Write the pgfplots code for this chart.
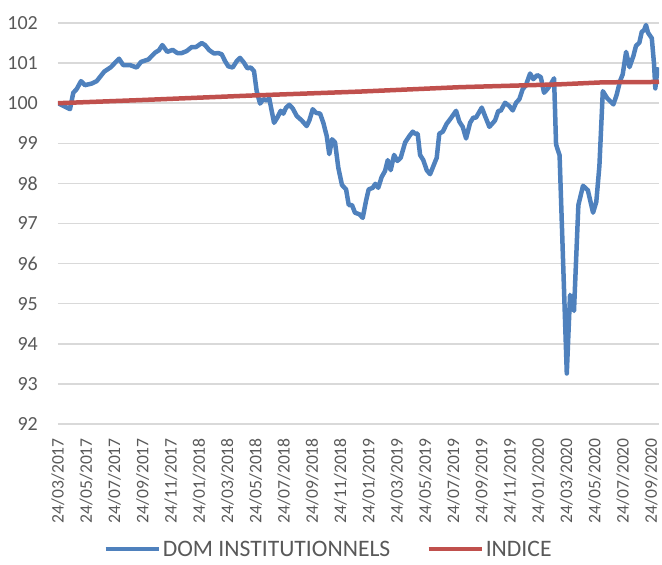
\documentclass[border=0pt]{standalone}
\usepackage{fontspec}
\setmainfont{Carlito}
\usepackage{pgfplots}
\pgfplotsset{compat=1.18}
\definecolor{serieblue}{HTML}{4F81BD}
\definecolor{seriered}{HTML}{C0504D}
\definecolor{gridgray}{HTML}{D9D9D9}
\definecolor{textgray}{HTML}{595959}
\begin{document}
\begin{tikzpicture}
\useasboundingbox (0,0) rectangle (662pt,565pt);
\begin{axis}[
  at={(58pt,141pt)}, anchor=south west,
  scale only axis, width=601pt, height=401pt,
  xmin=0, xmax=42.56, ymin=92, ymax=102,
  ytick={92,93,...,102},
  xtick={0,2,...,42},
  xticklabels={24/03/2017,24/05/2017,24/07/2017,24/09/2017,24/11/2017,24/01/2018,24/03/2018,24/05/2018,24/07/2018,24/09/2018,24/11/2018,24/01/2019,24/03/2019,24/05/2019,24/07/2019,24/09/2019,24/11/2019,24/01/2020,24/03/2020,24/05/2020,24/07/2020,24/09/2020},
  axis line style={draw=none},
  major tick length=0pt,
  ymajorgrids, grid style={gridgray, line width=1.5pt},
  tick label style={text=textgray},
  yticklabel style={font=\fontsize{20}{24}\selectfont, anchor=east, inner sep=0pt},
  /pgf/number format/assume math mode=true,
  xticklabel style={font=\fontsize{17.6}{20}\selectfont, rotate=90, anchor=east, inner sep=0pt},
  xticklabel shift=14pt,
  yticklabel shift=20pt,
  legend style={at={(0.450,-0.312)}, anchor=center, draw=none, fill=none,
    legend columns=2, font=\fontsize{23.6}{27}\selectfont, text=textgray,
    /tikz/every even column/.append style={column sep=34pt}},
  legend image code/.code={\draw[#1] (0pt,0pt) -- (53pt,0pt);},
]
\addplot[serieblue, line width=4.5pt, line join=round] coordinates {
(0,100.00) (0.85,99.85) (1.08,100.26) (1.32,100.35) (1.63,100.55) (1.91,100.45)
(2.39,100.49) (2.74,100.55) (3.28,100.79) (3.75,100.90) (4.04,101.01) (4.32,101.11)
(4.62,100.95) (5.10,100.95) (5.57,100.89) (5.88,101.03) (6.40,101.09) (6.87,101.26)
(7.15,101.32) (7.39,101.45) (7.74,101.28) (8.12,101.33) (8.45,101.25) (8.76,101.25)
(9.11,101.30) (9.47,101.40) (9.77,101.40) (10.18,101.50) (10.41,101.45) (10.72,101.32)
(11.05,101.24) (11.35,101.25) (11.59,101.22) (11.83,101.05) (12.06,100.92) (12.37,100.89)
(12.66,101.05) (12.89,101.13) (13.17,101.01) (13.41,100.87) (13.65,100.89) (13.88,100.80)
(14.07,100.30) (14.31,99.99) (14.54,100.10) (14.78,100.07) (14.96,100.12) (15.30,99.51)
(15.53,99.64) (15.77,99.81) (15.96,99.74) (16.15,99.89) (16.38,99.96) (16.62,99.87)
(16.91,99.68) (17.26,99.57) (17.61,99.43) (17.80,99.57) (18.04,99.85) (18.27,99.76)
(18.56,99.74) (18.79,99.51) (19.03,99.18) (19.21,98.73) (19.41,99.10) (19.62,99.02)
(19.85,98.39) (20.11,97.96) (20.40,97.85) (20.59,97.46) (20.82,97.46) (21.03,97.27)
(21.34,97.23) (21.58,97.14) (21.81,97.56) (22.00,97.85) (22.29,97.89) (22.47,97.99)
(22.68,97.89) (22.92,98.16) (23.16,98.31) (23.35,98.58) (23.56,98.33) (23.80,98.71)
(24.03,98.56) (24.27,98.64) (24.58,99.02) (24.88,99.18) (25.12,99.29) (25.28,99.24)
(25.47,99.24) (25.64,98.71) (25.87,98.58) (26.11,98.33) (26.35,98.23) (26.58,98.43)
(26.82,98.64) (27.00,99.24) (27.25,99.29) (27.53,99.49) (27.81,99.62) (28.19,99.81)
(28.42,99.54) (28.66,99.41) (28.90,99.12) (29.18,99.51) (29.41,99.64) (29.60,99.64)
(30.01,99.89) (30.24,99.68) (30.55,99.41) (30.95,99.57) (31.18,99.81) (31.35,99.81)
(31.66,100.01) (31.96,99.93) (32.20,99.82) (32.44,100.01) (32.67,100.10) (32.91,100.35)
(33.14,100.45) (33.43,100.74) (33.66,100.60) (33.94,100.70) (34.19,100.65) (34.42,100.26)
(34.65,100.35) (34.89,100.47) (35.13,100.62) (35.27,98.97) (35.52,98.70) (36.03,93.26)
(36.26,95.22) (36.54,94.82) (36.85,97.46) (37.18,97.94) (37.52,97.83) (37.89,97.27)
(38.12,97.54) (38.34,98.44) (38.58,100.30) (38.90,100.12) (39.33,99.97) (39.57,100.22)
(39.80,100.55) (39.99,100.72) (40.23,101.28) (40.47,100.90) (40.75,101.18) (40.93,101.43)
(41.17,101.51) (41.34,101.78) (41.50,101.82) (41.64,101.95) (41.78,101.76) (42.05,101.62)
(42.21,100.97) (42.30,100.37) (42.45,100.85) (42.56,100.82)
};
\addlegendentry{DOM INSTITUTIONNELS}
\addplot[seriered, line width=4.5pt] coordinates {
(0,100.00) (6,100.08) (13.6,100.19) (21.4,100.29) (28.5,100.40) (35.5,100.47)
(38.6,100.52) (42.56,100.53)
};
\addlegendentry{INDICE}
\end{axis}
\end{tikzpicture}
\end{document}
